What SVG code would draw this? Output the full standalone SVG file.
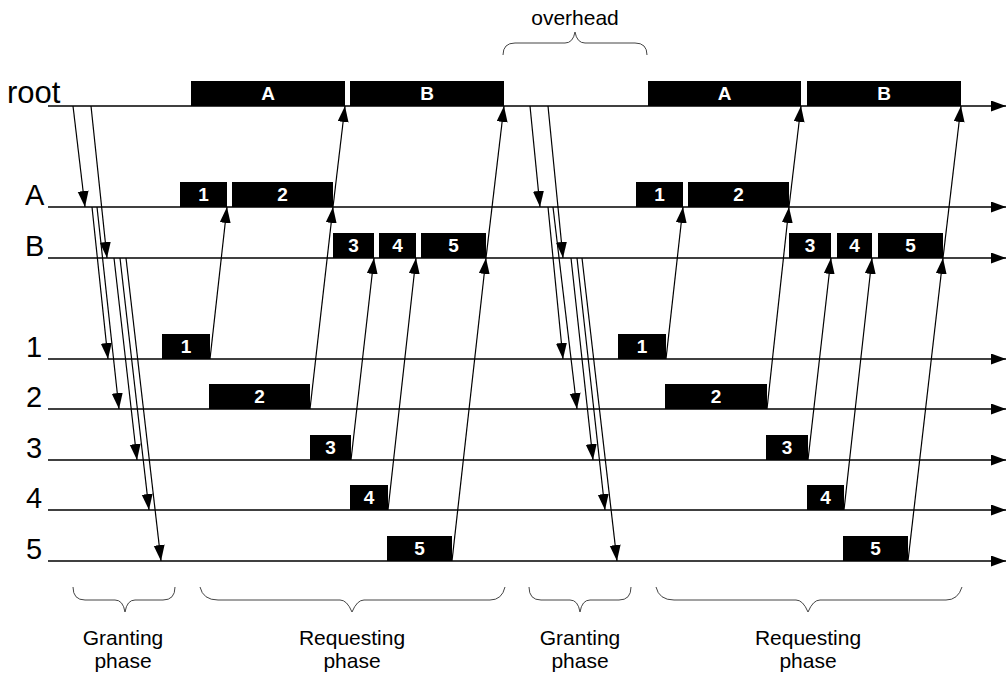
<svg xmlns="http://www.w3.org/2000/svg" width="1007" height="675" viewBox="0 0 1007 675">
<style>
.tl{stroke:#000;stroke-width:1.6;fill:none}
.ar{stroke:#000;stroke-width:1.2;fill:none}
.bar{fill:#000}
.bt{font-family:"Liberation Sans",Arial,sans-serif;font-weight:bold;font-size:19px;fill:#fff;text-anchor:middle}
.lbl{font-family:"Liberation Sans",Arial,sans-serif;font-size:29px;fill:#000}
.cap{font-family:"Liberation Sans",Arial,sans-serif;font-size:21px;fill:#000;text-anchor:middle}
.br{stroke:#444;stroke-width:1;fill:none}
</style>
<defs>
<marker id="tip" markerUnits="userSpaceOnUse" markerWidth="16" markerHeight="12" refX="16" refY="5.5" orient="auto"><path d="M0,0 L16,5.5 L0,11 z" fill="#000"/></marker>
<marker id="tlTip" markerUnits="userSpaceOnUse" markerWidth="15" markerHeight="11" refX="15" refY="5.5" orient="auto"><path d="M0,0 L15,5.5 L0,11 z" fill="#000"/></marker>
</defs>
<rect width="1007" height="675" fill="#fff"/>
<g id="timelines">
<line class="tl" x1="48" y1="106" x2="1006" y2="106" marker-end="url(#tlTip)"/>
<line class="tl" x1="48" y1="207" x2="1006" y2="207" marker-end="url(#tlTip)"/>
<line class="tl" x1="48" y1="258" x2="1006" y2="258" marker-end="url(#tlTip)"/>
<line class="tl" x1="48" y1="359" x2="1006" y2="359" marker-end="url(#tlTip)"/>
<line class="tl" x1="48" y1="409" x2="1006" y2="409" marker-end="url(#tlTip)"/>
<line class="tl" x1="48" y1="460" x2="1006" y2="460" marker-end="url(#tlTip)"/>
<line class="tl" x1="48" y1="510" x2="1006" y2="510" marker-end="url(#tlTip)"/>
<line class="tl" x1="48" y1="561" x2="1006" y2="561" marker-end="url(#tlTip)"/>
<text class="lbl" x="7" y="103" style="font-size:31px">root</text>
<text class="lbl" x="25" y="205">A</text>
<text class="lbl" x="25" y="256">B</text>
<text class="lbl" x="26" y="357">1</text>
<text class="lbl" x="26" y="407">2</text>
<text class="lbl" x="26" y="458">3</text>
<text class="lbl" x="26" y="508">4</text>
<text class="lbl" x="26" y="559">5</text>
</g>
<g id="root-bars">
<rect class="bar" x="191" y="81" width="154" height="25"/><text class="bt" x="268" y="100">A</text>
<rect class="bar" x="350" y="81" width="154" height="25"/><text class="bt" x="427" y="100">B</text>
<rect class="bar" x="648" y="81" width="153" height="25"/><text class="bt" x="724.5" y="100">A</text>
<rect class="bar" x="807" y="81" width="154" height="25"/><text class="bt" x="884" y="100">B</text>
</g>
<g id="A-bars">
<rect class="bar" x="180" y="182" width="47" height="25"/><text class="bt" x="203.5" y="201">1</text>
<rect class="bar" x="232" y="182" width="101" height="25"/><text class="bt" x="282.5" y="201">2</text>
<rect class="bar" x="636" y="182" width="47" height="25"/><text class="bt" x="659.5" y="201">1</text>
<rect class="bar" x="688" y="182" width="101" height="25"/><text class="bt" x="738.5" y="201">2</text>
</g>
<g id="B-bars">
<rect class="bar" x="333" y="233" width="41" height="25"/><text class="bt" x="353.5" y="252">3</text>
<rect class="bar" x="379" y="233" width="37" height="25"/><text class="bt" x="397.5" y="252">4</text>
<rect class="bar" x="421" y="233" width="65" height="25"/><text class="bt" x="453.5" y="252">5</text>
<rect class="bar" x="789" y="233" width="42" height="25"/><text class="bt" x="810" y="252">3</text>
<rect class="bar" x="837" y="233" width="35" height="25"/><text class="bt" x="854.5" y="252">4</text>
<rect class="bar" x="878" y="233" width="65" height="25"/><text class="bt" x="910.5" y="252">5</text>
</g>
<g id="node1-bars">
<rect class="bar" x="162" y="334" width="48" height="25"/><text class="bt" x="186" y="353">1</text>
<rect class="bar" x="618" y="334" width="48" height="25"/><text class="bt" x="642" y="353">1</text>
</g>
<g id="node2-bars">
<rect class="bar" x="209" y="384" width="101" height="25"/><text class="bt" x="259.5" y="403">2</text>
<rect class="bar" x="665" y="384" width="102" height="25"/><text class="bt" x="716" y="403">2</text>
</g>
<g id="node3-bars">
<rect class="bar" x="310" y="435" width="41" height="25"/><text class="bt" x="330.5" y="454">3</text>
<rect class="bar" x="766" y="435" width="42" height="25"/><text class="bt" x="787" y="454">3</text>
</g>
<g id="node4-bars">
<rect class="bar" x="350" y="485" width="38" height="25"/><text class="bt" x="369" y="504">4</text>
<rect class="bar" x="807" y="485" width="37" height="25"/><text class="bt" x="825.5" y="504">4</text>
</g>
<g id="node5-bars">
<rect class="bar" x="387" y="536" width="65" height="25"/><text class="bt" x="419.5" y="555">5</text>
<rect class="bar" x="843" y="536" width="65" height="25"/><text class="bt" x="875.5" y="555">5</text>
</g>
<g id="connectors">
<line class="ar" x1="73" y1="106" x2="85" y2="207" marker-end="url(#tip)"/>
<line class="ar" x1="91" y1="106" x2="107" y2="258" marker-end="url(#tip)"/>
<line class="ar" x1="92" y1="207" x2="108" y2="359" marker-end="url(#tip)"/>
<line class="ar" x1="97" y1="207" x2="119" y2="409" marker-end="url(#tip)"/>
<line class="ar" x1="114" y1="258" x2="137" y2="460" marker-end="url(#tip)"/>
<line class="ar" x1="120" y1="258" x2="149" y2="510" marker-end="url(#tip)"/>
<line class="ar" x1="126" y1="258" x2="161" y2="561" marker-end="url(#tip)"/>
<line class="ar" x1="210" y1="359" x2="227" y2="207" marker-end="url(#tip)"/>
<line class="ar" x1="310" y1="409" x2="333" y2="207" marker-end="url(#tip)"/>
<line class="ar" x1="351" y1="460" x2="374" y2="258" marker-end="url(#tip)"/>
<line class="ar" x1="388" y1="510" x2="416" y2="258" marker-end="url(#tip)"/>
<line class="ar" x1="452" y1="561" x2="486" y2="258" marker-end="url(#tip)"/>
<line class="ar" x1="333" y1="207" x2="345" y2="106" marker-end="url(#tip)"/>
<line class="ar" x1="486" y1="258" x2="504" y2="106" marker-end="url(#tip)"/>
<line class="ar" x1="530" y1="106" x2="540" y2="207" marker-end="url(#tip)"/>
<line class="ar" x1="548" y1="106" x2="563" y2="258" marker-end="url(#tip)"/>
<line class="ar" x1="548" y1="207" x2="563" y2="359" marker-end="url(#tip)"/>
<line class="ar" x1="553" y1="207" x2="577" y2="409" marker-end="url(#tip)"/>
<line class="ar" x1="571" y1="258" x2="593" y2="460" marker-end="url(#tip)"/>
<line class="ar" x1="577" y1="258" x2="605" y2="510" marker-end="url(#tip)"/>
<line class="ar" x1="582" y1="258" x2="617" y2="561" marker-end="url(#tip)"/>
<line class="ar" x1="666" y1="359" x2="683" y2="207" marker-end="url(#tip)"/>
<line class="ar" x1="767" y1="409" x2="789" y2="207" marker-end="url(#tip)"/>
<line class="ar" x1="808" y1="460" x2="831" y2="258" marker-end="url(#tip)"/>
<line class="ar" x1="844" y1="510" x2="872" y2="258" marker-end="url(#tip)"/>
<line class="ar" x1="908" y1="561" x2="943" y2="258" marker-end="url(#tip)"/>
<line class="ar" x1="789" y1="207" x2="801" y2="106" marker-end="url(#tip)"/>
<line class="ar" x1="943" y1="258" x2="961" y2="106" marker-end="url(#tip)"/>
</g>
<g id="braces">
<path class="br" d="M503,55 Q503,43 515,43 L565,43 Q573,43 575,32 Q577,43 585,43 L635,43 Q647,43 647,55"/>
<text class="cap" x="575" y="25">overhead</text>
<path class="br" d="M73,587 Q73,600 85,600 L115,600 Q123,600 125,612 Q127,600 135,600 L163,600 Q175,600 175,587"/>
<path class="br" d="M200,587 Q203,600 218,600 L340,600 Q347,600 352,612 Q357,600 364,600 L490,600 Q502,600 505,587"/>
<path class="br" d="M529,587 Q529,600 541,600 L570,600 Q578,600 580,612 Q582,600 590,600 L619,600 Q631,600 631,587"/>
<path class="br" d="M656,587 Q659,600 674,600 L796,600 Q803,600 808,612 Q813,600 820,600 L946,600 Q958,600 962,587"/>
<text class="cap" x="123" y="645">Granting</text>
<text class="cap" x="123" y="668">phase</text>
<text class="cap" x="352" y="645">Requesting</text>
<text class="cap" x="352" y="668">phase</text>
<text class="cap" x="580" y="645">Granting</text>
<text class="cap" x="580" y="668">phase</text>
<text class="cap" x="808" y="645">Requesting</text>
<text class="cap" x="808" y="668">phase</text>
</g>
</svg>
